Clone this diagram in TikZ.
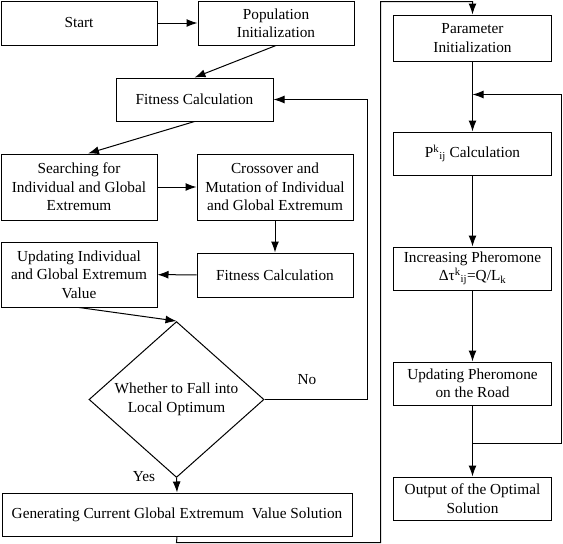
\documentclass[tikz,border=0pt]{standalone}
\usepackage{fontspec}
\setmainfont{Liberation Serif}
\usetikzlibrary{arrows.meta,shapes.geometric}
\begin{document}
\begin{tikzpicture}[x=1pt,y=-1pt,
  box/.style={draw,line width=1pt,inner sep=0pt,align=center,font=\fontsize{15.3}{18.4}\selectfont},
  dia/.style={draw,line width=1pt,shape=diamond,inner sep=0pt,align=center,font=\fontsize{15.3}{18.4}\selectfont},
  lbl/.style={font=\fontsize{15.3}{18.4}\selectfont,inner sep=0pt},
  arr/.style={draw,line width=1pt,-{Latex[length=11pt,width=8pt]}}]
\useasboundingbox (0,0) rectangle (563,544);
\node[box,minimum width=156,minimum height=44] (start) at (79,23) {Start};
\node[box,minimum width=156,minimum height=44] (pop) at (276,23) {Population\\Initialization};
\node[box,minimum width=157,minimum height=43] (fit1) at (194.5,99.5) {Fitness Calculation};
\node[box,minimum width=156,minimum height=66] (search) at (79,187) {Searching for\\Individual and Global\\Extremum};
\node[box,minimum width=156,minimum height=66] (cross) at (275,187) {Crossover and\\Mutation of Individual\\and Global Extremum};
\node[box,minimum width=156,minimum height=44] (fit2) at (275,275) {Fitness Calculation};
\node[box,minimum width=156,minimum height=65] (upd) at (79,274.5) {Updating Individual\\and Global Extremum\\Value};
\node[dia,minimum width=175,minimum height=120] (dec) at (176.5,399.5) {Whether to Fall into\\Local Optimum};
\node[box,minimum width=350,minimum height=43] (gen) at (177,514.5) {Generating Current Global Extremum\ \ Value Solution};
\node[box,minimum width=158,minimum height=46] (param) at (472.5,38) {Parameter\\Initialization};
\node[box,minimum width=158,minimum height=43] (pcalc) at (472.5,153.5) {P\textsuperscript{k}\textsubscript{ij} Calculation};
\node[box,minimum width=158,minimum height=43] (incr) at (472.5,268.5) {Increasing Pheromone\\Δτ\textsuperscript{k}\textsubscript{ij}=Q/L\textsubscript{k}};
\node[box,minimum width=158,minimum height=43] (updp) at (472.5,383.5) {Updating Pheromone\\on the Road};
\node[box,minimum width=158,minimum height=43] (out) at (472.5,498.5) {Output of the Optimal\\Solution};
\node[lbl] (no) at (307,380) {No};
\node[lbl] (yes) at (144,477) {Yes};
\coordinate (nr) at (367.5,399.5);
\coordinate (b1) at (176.5,542.5);
\coordinate (b2) at (380.5,542.5);
\coordinate (b3) at (380.5,1.5);
\coordinate (j1) at (472.5,443.5);
\coordinate (j2) at (561.5,443.5);
\coordinate (j3) at (561.5,94.5);
\coordinate (j4) at (472.5,94.5);
\draw[arr] (start) -- (pop);
\draw[arr] (pop.south) -- (fit1.north);
\draw[arr] (fit1.south) -- ([xshift=9pt]search.north);
\draw[arr] (search) -- (cross);
\draw[arr] (cross) -- (fit2);
\draw[arr] (fit2) -- (upd);
\draw[arr] (upd.south) -- (dec.north);
\draw[arr] (dec.south) -- (gen.north);
\draw[arr] (dec.east) -- (nr) |- (fit1.east);
\draw[arr] (gen.south) -- (b1) -- (b2) -- (b3) -| (param.north);
\draw[arr] (param) -- (pcalc);
\draw[arr] (pcalc) -- (incr);
\draw[arr] (incr) -- (updp);
\draw[arr] (updp.south) -- (j1) -- (out.north);
\draw[arr] (j1) -- (j2) -- (j3) -- (j4);
\end{tikzpicture}
\end{document}
